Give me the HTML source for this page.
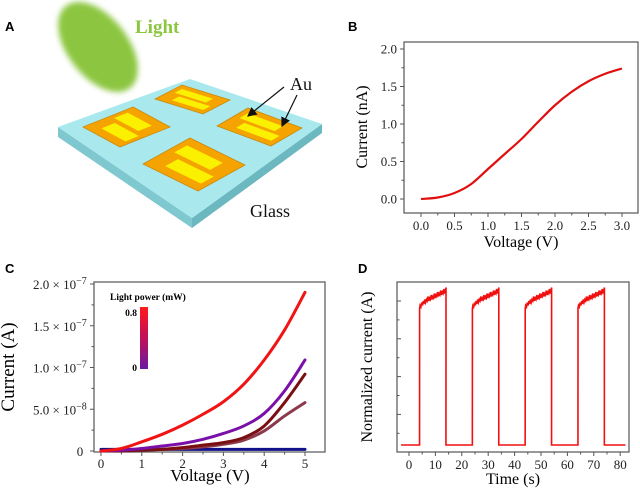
<!DOCTYPE html>
<html><head><meta charset="utf-8">
<style>
html,body{margin:0;padding:0;background:#fff;}
svg{display:block;font-family:"Liberation Serif",serif;}
.lab{font-family:"Liberation Sans",sans-serif;font-weight:bold;font-size:13px;}
.tk{font-size:13px;fill:#222;}
</style></head>
<body>
<svg id="fig" width="640" height="490" viewBox="0 0 640 490" xmlns="http://www.w3.org/2000/svg">
<defs>
<filter id="blur" x="-30%" y="-30%" width="160%" height="160%"><feGaussianBlur stdDeviation="3"/></filter>
<linearGradient id="cbar" x1="0" y1="0" x2="0" y2="1"><stop offset="0" stop-color="#ff1a1a"/><stop offset="0.5" stop-color="#c0105a"/><stop offset="1" stop-color="#6a1aa0"/></linearGradient>
<marker id="arr" markerWidth="8" markerHeight="8" refX="7" refY="4" orient="auto"><path d="M0,0 L8,4 L0,8 Z" fill="#111"/></marker>
</defs>

<!-- Panel A -->
<g>
<text class="lab" x="5" y="31">A</text>
<ellipse cx="98" cy="47" rx="52" ry="30" transform="rotate(52 98 47)" fill="#8cc63f" filter="url(#blur)"/>
<text x="135" y="33" font-size="19" font-weight="bold" fill="#8cc63f">Light</text>
<polygon points="58,127 58,137 192,228 192,218" fill="#7fc8cf"/>
<polygon points="192,218 192,228 322,133 322,124" fill="#6cb8c0"/>
<polygon points="58,127 190,79 322,124 192,218" fill="#a9e9ee"/>
<g id="pads"></g>
<text x="290" y="90" font-size="18" fill="#111">Au</text>
<line x1="284" y1="87" x2="248" y2="116" stroke="#111" stroke-width="1.2" marker-end="url(#arr)"/>
<line x1="297" y1="95" x2="282" y2="126" stroke="#111" stroke-width="1.2" marker-end="url(#arr)"/>
<text x="250" y="217" font-size="18" fill="#111">Glass</text>
</g>

<!-- Panel B -->
<g id="pb">
<text class="lab" x="348" y="31">B</text>
<rect x="404" y="42" width="234" height="171" fill="none" stroke="#555" stroke-width="1.2"/>
<text x="367" y="127" font-size="16" text-anchor="middle" transform="rotate(-90 367 127)">Current (nA)</text>
<text x="521" y="247" font-size="16" text-anchor="middle">Voltage (V)</text>
</g>

<!-- Panel C -->
<g id="pc">
<text class="lab" x="5" y="273">C</text>
<rect x="94" y="282" width="231" height="170" fill="none" stroke="#555" stroke-width="1.2"/>
<text x="14" y="367" font-size="19" text-anchor="middle" transform="rotate(-90 14 367)">Current (A)</text>
<text x="210" y="481" font-size="17" text-anchor="middle">Voltage (V)</text>
<text x="110" y="300" font-size="9.5" font-weight="bold">Light power (mW)</text>
<rect x="140" y="307" width="8" height="62" fill="url(#cbar)"/>
<text x="137" y="316" font-size="9.5" font-weight="bold" text-anchor="end">0.8</text>
<text x="137" y="371" font-size="9.5" font-weight="bold" text-anchor="end">0</text>
</g>

<!-- Panel D -->
<g id="pd">
<text class="lab" x="358" y="273">D</text>
<rect x="397" y="282" width="232" height="170" fill="none" stroke="#555" stroke-width="1.2"/>
<text x="372" y="367" font-size="16" text-anchor="middle" transform="rotate(-90 372 367)">Normalized current (A)</text>
<text x="513" y="484" font-size="16" text-anchor="middle">Time (s)</text>
</g>
</svg>
<script>
// ---- Panel B data ----
const bVolt = [0,0.25,0.5,0.75,1.0,1.25,1.5,1.75,2.0,2.25,2.5,2.75,3.0];
const bCurr = [0,0.02,0.08,0.2,0.4,0.6,0.8,1.03,1.25,1.43,1.57,1.67,1.74];
const bXTicks = [0,0.5,1.0,1.5,2.0,2.5,3.0];
const bYTicks = [0,0.5,1.0,1.5,2.0];
// ---- Panel C data ----
const cVolt = [0,0.5,1,1.5,2,2.5,3,3.5,4,4.5,5];
const cRed = [0,0.03,0.11,0.2,0.31,0.44,0.59,0.8,1.09,1.45,1.9];
const cPurple = [0,0.01,0.03,0.06,0.09,0.14,0.21,0.3,0.45,0.72,1.09];
const cDarkRed = [0,0,0.01,0.02,0.04,0.07,0.1,0.16,0.3,0.58,0.92];
const cBrown = [0,0,0.01,0.02,0.03,0.05,0.08,0.13,0.24,0.42,0.58];
const cBlue = [0.02,0.02,0.02,0.02,0.02,0.02,0.02,0.02,0.02,0.02,0.02];
const cXTicks = [0,1,2,3,4,5];
const cYTicks = [0,0.5,1.0,1.5,2.0];
const cYLabels = ["0","5.0","1.0","1.5","2.0"];
const cYExp = ["","−8","−7","−7","−7"];
// ---- Panel D data ----
const dOn = [4,24,44,64];
const dOff = [14,34,54,74];
const dLow = 0.0;
const dPulseT = [0,0.2,0.5,0.8,1.1,1.4,1.7,2.0,2.3,2.6,2.9,3.2,3.5,3.8,4.1,4.4,4.7,5.0,5.3,5.6,5.9,6.2,6.5,6.8,7.1,7.4,7.7,8.0,8.3,8.6,8.9,9.2,9.5,9.8,10];
const dPulseV = [0.91,0.93,0.92,0.95,0.93,0.96,0.94,0.97,0.95,0.97,0.96,0.99,0.96,0.98,0.97,1.0,0.97,0.99,0.98,1.01,0.98,1.0,0.99,1.02,0.99,1.01,1.0,1.03,1.0,1.02,1.01,1.04,1.01,1.03,1.05];
const dXTicks = [0,10,20,30,40,50,60,70,80];

const NS = "http://www.w3.org/2000/svg";
function mk(tag, parent, attrs){ const e=document.createElementNS(NS,tag); for(const k in attrs) e.setAttribute(k,attrs[k]); parent.appendChild(e); return e; }
function smooth(pts){ let d="M"+pts[0][0]+","+pts[0][1]; for(let i=0;i<pts.length-1;i++){const p0=pts[Math.max(0,i-1)],p1=pts[i],p2=pts[i+1],p3=pts[Math.min(pts.length-1,i+2)];
 d+=" C"+(p1[0]+(p2[0]-p0[0])/6)+","+(p1[1]+(p2[1]-p0[1])/6)+" "+(p2[0]-(p3[0]-p1[0])/6)+","+(p2[1]-(p3[1]-p1[1])/6)+" "+p2[0]+","+p2[1];} return d; }

// Pads (panel A): corners left, top, right
const pads = document.getElementById('pads');
const padGeo = [[[83,127],[133,107],[170,127]],[[155,99],[182,85],[230,100]],[[217,126],[248,108],[302,128]],[[143,164],[190,138],[245,165]]];
padGeo.forEach((g,i)=>{
  const o=g[0], u=[g[1][0]-o[0],g[1][1]-o[1]], v=[g[2][0]-g[1][0],g[2][1]-g[1][1]];
  const P=(a,b)=>(o[0]+a*u[0]+b*v[0]).toFixed(1)+","+(o[1]+a*u[1]+b*v[1]).toFixed(1);
  const p=mk('polygon',pads,{points:[P(0,0),P(1,0),P(1,1),P(0,1)].join(" "),fill:"#f5a300",stroke:"#c98a10","stroke-width":"0.8"});
  
  
  const s1=mk('polygon',pads,{points:[P(0.55,0.1),P(0.82,0.1),P(0.82,0.75),P(0.55,0.75)].join(" "),fill:"#fbf000"});
  
  
  const s2=mk('polygon',pads,{points:[P(0.18,0.25),P(0.45,0.25),P(0.45,0.9),P(0.18,0.9)].join(" "),fill:"#fbf000"});
  
  
});

// Panel B
const pb=document.getElementById('pb');
const bx=v=>421+v*67, by=v=>199-v*75;
bXTicks.forEach(t=>{ mk('line',pb,{x1:bx(t),x2:bx(t),y1:213,y2:217,stroke:"#555"});
  const tx=mk('text',pb,{x:bx(t),y:230,"text-anchor":"middle",class:"tk"}); tx.textContent=t.toFixed(1);
   
  if(t<3) mk('line',pb,{x1:bx(t+0.25),x2:bx(t+0.25),y1:213,y2:215.5,stroke:"#555"}); });
bYTicks.forEach(t=>{ mk('line',pb,{x1:400,x2:404,y1:by(t),y2:by(t),stroke:"#555"});
  const tx=mk('text',pb,{x:397,y:by(t)+4.5,"text-anchor":"end",class:"tk"}); tx.textContent=t.toFixed(1);
   
  if(t<2) mk('line',pb,{x1:401.5,x2:404,y1:by(t+0.25),y2:by(t+0.25),stroke:"#555"}); });
const bl=mk('path',pb,{d:smooth(bVolt.map((v,i)=>[bx(v),by(bCurr[i])])),fill:"none",stroke:"#e01010","stroke-width":"2.2"});



// Panel C
const pc=document.getElementById('pc');
const cx=v=>101+v*40.8, cy=v=>451-v*83.5;
cXTicks.forEach(t=>{ mk('line',pc,{x1:cx(t),x2:cx(t),y1:452,y2:456,stroke:"#555"});
  const tx=mk('text',pc,{x:cx(t),y:468,"text-anchor":"middle",class:"tk"}); tx.textContent=t;
   
  if(t<5) mk('line',pc,{x1:cx(t+0.5),x2:cx(t+0.5),y1:452,y2:454.5,stroke:"#555"}); });
cYTicks.forEach((t,i)=>{ mk('line',pc,{x1:90,x2:94,y1:cy(t),y2:cy(t),stroke:"#555"});
  const tx=mk('text',pc,{x:i==0?80:33,y:cy(t)+5,class:"tk","text-anchor":i==0?"middle":"start","font-size":"14"});
  tx.textContent = i==0 ? cYLabels[i] : cYLabels[i]+" × 10";
  if(i>0){ const sp=mk('tspan',tx,{dy:"-5","font-size":"10"}); sp.textContent=cYExp[i]; }
   
  if(t<2) mk('line',pc,{x1:91.5,x2:94,y1:cy(t+0.25),y2:cy(t+0.25),stroke:"#555"}); });
const cSeries=[[cBlue,"#10108a","series-0mw"],[cBrown,"#8a3a4a","series-low"],[cDarkRed,"#7a0f12","series-mid"],[cPurple,"#7a10a8","series-high"],[cRed,"#f01414","series-0.8mw"]];
cSeries.forEach(s=>{ const pts=cVolt.map((v,i)=>[cx(v),cy(s[0][i])]);
  const p=mk('path',pc,{d:smooth(pts),fill:"none",stroke:s[1],"stroke-width":"3","stroke-linecap":"round"});
  
   });

// Panel D
const pd=document.getElementById('pd');
const dx=t=>409+t*2.64, dy=v=>445-v*150;
dXTicks.forEach(t=>{ mk('line',pd,{x1:dx(t),x2:dx(t),y1:452,y2:456,stroke:"#555"});
  const tx=mk('text',pd,{x:dx(t),y:469,"text-anchor":"middle",class:"tk"}); tx.textContent=t;
   
  if(t<80) mk('line',pd,{x1:dx(t+5),x2:dx(t+5),y1:452,y2:454.5,stroke:"#555"}); });
for(let k=0;k<8;k++){ const y=301+k*18.9; mk('line',pd,{x1:k%2?399.5:397,x2:k%2?397:401,y1:y,y2:y,stroke:"#555"}); }
let dd="M"+dx(-3)+","+dy(dLow);
dOn.forEach((on,j)=>{ dd+=" L"+dx(on)+","+dy(dLow);
  dPulseT.forEach((t,i)=>{ const tt=Math.min(on+t,dOff[j]); dd+=" L"+dx(tt).toFixed(1)+","+dy(dPulseV[i]).toFixed(1); });
  dd+=" L"+dx(dOff[j])+","+dy(dLow); });
dd+=" L"+dx(82)+","+dy(dLow);
const dl=mk('path',pd,{d:dd,fill:"none",stroke:"#f01010","stroke-width":"1.6"});


</script>
</body></html>
